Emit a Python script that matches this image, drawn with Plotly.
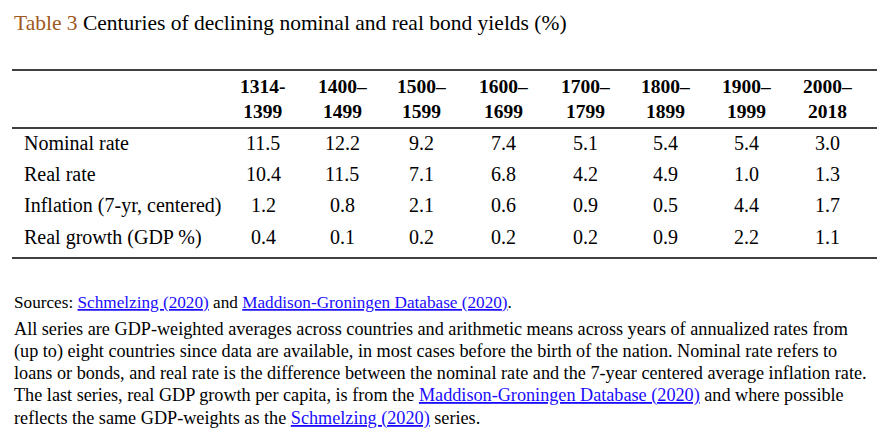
import plotly.graph_objects as go

periods = ["1314-<br>1399", "1400–<br>1499", "1500–<br>1599", "1600–<br>1699",
           "1700–<br>1799", "1800–<br>1899", "1900–<br>1999", "2000–<br>2018"]
row_labels = ["Nominal rate", "Real rate", "Inflation (7-yr, centered)", "Real growth (GDP %)"]
nominal = [11.5, 12.2, 9.2, 7.4, 5.1, 5.4, 5.4, 3.0]
real = [10.4, 11.5, 7.1, 6.8, 4.2, 4.9, 1.0, 1.3]
inflation = [1.2, 0.8, 2.1, 0.6, 0.9, 0.5, 4.4, 1.7]
growth = [0.4, 0.1, 0.2, 0.2, 0.2, 0.9, 2.2, 1.1]
rows = [nominal, real, inflation, growth]

col_x = [263, 342, 421, 503, 585, 665, 746, 827]
row_y = [143, 174, 205, 237]
FONT = "Liberation Serif, Times New Roman, serif"


def link(t):
    return f"<span style='color:#1a0dff;text-decoration:underline'>{t}</span>"


fig = go.Figure()
ann = []
ann.append(dict(x=12, y=23, xanchor="left", text="<span style='color:#a0591c'>Table 3</span> Centuries of declining nominal and real bond yields (%)",
                font=dict(size=21.5)))
for x, p in zip(col_x, periods):
    ann.append(dict(x=x, y=99, text=f"<b>{p}</b>", font=dict(size=19.5), align="center"))
for y, lab, vals in zip(row_y, row_labels, rows):
    ann.append(dict(x=22, y=y, xanchor="left", text=lab, font=dict(size=20)))
    for x, v in zip(col_x, vals):
        ann.append(dict(x=x, y=y, text=f"{v:.1f}", font=dict(size=20)))

ann.append(dict(x=12, y=302, xanchor="left", font=dict(size=17.2),
                text="Sources: " + link("Schmelzing (2020)") + " and " + link("Maddison-Groningen Database (2020)") + "."))
para = [
    "All series are GDP-weighted averages across countries and arithmetic means across years of annualized rates from",
    "(up to) eight countries since data are available, in most cases before the birth of the nation. Nominal rate refers to",
    "loans or bonds, and real rate is the difference between the nominal rate and the 7-year centered average inflation rate.",
    "The last series, real GDP growth per capita, is from the " + link("Maddison-Groningen Database (2020)") + " and where possible",
    "reflects the same GDP-weights as the " + link("Schmelzing (2020)") + " series.",
]
for y, t in zip([329, 351, 373, 395, 418], para):
    ann.append(dict(x=12, y=y, xanchor="left", text=t, font=dict(size=18.2)))

for a in ann:
    a.setdefault("xanchor", "center")
    a["yanchor"] = "middle"
    a["showarrow"] = False
    a["xref"] = "x"
    a["yref"] = "y"
    a["font"] = dict(family=FONT, color="black", **a["font"])

for y in [70, 128, 258]:
    fig.add_shape(type="line", x0=12, x1=877, y0=y, y1=y, line=dict(color="black", width=1.5))

# page body has an 8px margin, so offset the ranges to keep reference pixel coords
fig.update_layout(width=890, height=448, margin=dict(l=0, r=0, t=0, b=0),
                  plot_bgcolor="white", paper_bgcolor="white", annotations=ann,
                  xaxis=dict(range=[8, 898], visible=False, fixedrange=True),
                  yaxis=dict(range=[456, 8], visible=False, fixedrange=True),
                  showlegend=False)
fig.write_html("out.html")
